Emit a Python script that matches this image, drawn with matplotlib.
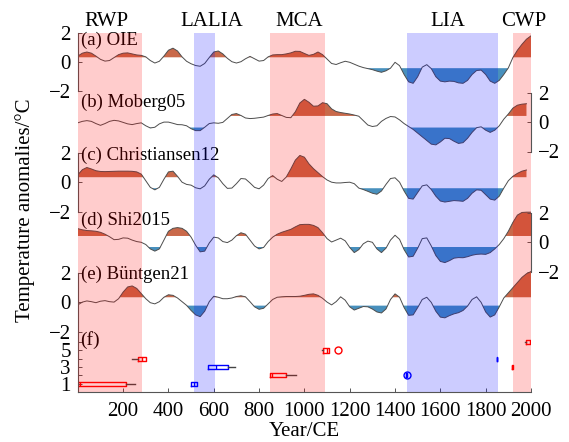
import numpy as np
import matplotlib
matplotlib.use("Agg")
import matplotlib.pyplot as plt

plt.rcParams["font.family"] = ["Liberation Serif", "DejaVu Serif"]
plt.rcParams["font.size"] = 15

# ---- data (smoothed anomalies, 20-yr steps) ----
years = np.arange(0, 2001, 20)

oie = [0.40, 0.60, 0.68, 0.60, 0.40, 0.18, 0.06, 0.10, 0.30, 0.50,
       0.60, 0.62, 0.55, 0.48, 0.45, 0.35, 0.10, -0.07, 0.05, 0.40,
       0.80, 0.94, 0.75, 0.35, 0.05, -0.12, -0.24, -0.29, -0.10, 0.30,
       0.68, 0.75, 0.55, 0.25, 0.02, -0.07, 0.02, 0.22, 0.38, 0.22,
       0.06, 0.10, 0.35, 0.48, 0.50, 0.50, 0.55, 0.62, 0.73, 0.72,
       0.58, 0.45, 0.52, 0.68, 0.50, 0.20, -0.10, -0.17, -0.05, 0.05,
       -0.02, -0.15, -0.28, -0.38, -0.45, -0.52, -0.62, -0.70, -0.60, -0.42,
       -0.02, -0.25, -0.85, -1.35, -1.45, -1.00, -0.35, -0.18, -0.45, -1.00,
       -1.30, -1.35, -1.30, -1.32, -1.42, -1.45, -1.25, -0.85, -0.58, -0.55,
       -0.85, -1.30, -1.45, -1.25, -0.85, -0.40, 0.30, 0.80, 1.20, 1.55,
       1.78]

moberg05 = [-0.05, 0.05, 0.10, 0.05, -0.10, -0.22, -0.10, 0.05, 0.12, 0.08,
            -0.02, -0.12, -0.17, -0.10, -0.05, -0.25, -0.40, -0.35, -0.12, 0.00,
            0.00, -0.08, -0.17, -0.18, -0.25, -0.45, -0.58, -0.58, -0.35, -0.10,
            -0.05, -0.08, -0.02, 0.25, 0.52, 0.58, 0.45, 0.28, 0.24, 0.26,
            0.30, 0.34, 0.45, 0.55, 0.58, 0.45, 0.32, 0.30, 0.70, 1.30,
            1.55, 1.35, 1.08, 1.10, 1.32, 1.25, 0.90, 0.72, 0.65, 0.60,
            0.55, 0.48, 0.40, 0.10, -0.20, -0.30, -0.25, 0.05, 0.25, 0.38,
            0.35, 0.15, -0.10, -0.30, -0.50, -0.75, -1.00, -1.25, -1.50, -1.55,
            -1.35, -1.10, -1.12, -1.30, -1.45, -1.40, -1.10, -0.70, -0.38, -0.32,
            -0.55, -0.70, -0.55, -0.25, 0.20, 0.55, 0.95, 1.15, 1.22, 1.25,
            np.nan]

christiansen12 = [0.50, 0.85, 1.00, 0.90, 0.78, 0.73, 0.72, 0.73, 0.74, 0.75,
                  0.75, 0.75, 0.74, 0.70, 0.55, 0.10, -0.35, -0.52, -0.35, 0.20,
                  0.70, 0.75, 0.40, 0.00, -0.15, -0.20, -0.38, -0.45, -0.25, 0.20,
                  0.50, 0.30, -0.10, -0.42, -0.40, -0.10, 0.25, 0.22, -0.05, -0.35,
                  -0.45, -0.20, 0.25, 0.45, 0.20, 0.05, 0.35, 0.90, 1.50, 1.82,
                  1.70, 1.25, 0.92, 0.65, 0.38, 0.15, 0.00, -0.05, -0.05, -0.02,
                  0.00, -0.10, -0.40, -0.50, -0.62, -0.75, -0.82, -0.60, -0.15, 0.25,
                  0.30, 0.00, -0.60, -1.10, -1.15, -0.70, -0.25, -0.18, -0.50, -0.95,
                  -1.28, -1.35, -1.30, -1.25, -1.27, -1.30, -1.10, -0.75, -0.52, -0.55,
                  -0.85, -1.15, -1.22, -0.95, -0.40, 0.10, 0.40, 0.60, 0.75, 0.83,
                  np.nan]

shi2015 = [0.93, 0.85, 0.80, 0.78, 0.75, 0.68, 0.55, 0.38, 0.18, 0.20,
           0.30, 0.28, 0.15, 0.05, 0.00, -0.15, -0.45, -0.60, -0.45, 0.15,
           0.75, 0.95, 1.00, 0.95, 0.75, 0.35, -0.20, -0.65, -0.60, -0.05,
           0.35, 0.30, 0.05, -0.02, 0.15, 0.45, 0.65, 0.55, 0.15, -0.25,
           -0.45, -0.35, 0.05, 0.35, 0.55, 0.68, 0.78, 0.88, 1.05, 1.20,
           1.22, 1.22, 1.15, 1.00, 0.65, 0.25, 0.02, 0.15, 0.28, 0.10,
           -0.35, -0.70, -0.50, -0.10, 0.08, 0.00, -0.45, -0.70, -0.40, 0.15,
           0.48, 0.20, -0.50, -1.00, -0.95, -0.40, 0.25, 0.30, -0.25, -0.90,
           -1.30, -1.38, -1.25, -1.08, -1.04, -1.05, -0.98, -0.88, -0.82, -0.80,
           -0.82, -0.70, -0.45, -0.15, 0.25, 0.75, 1.35, 1.85, 2.03, 2.05,
           2.05]

buentgen21 = [-0.17, 0.02, 0.10, 0.05, -0.02, 0.08, 0.12, 0.05, 0.02, 0.25,
              0.70, 1.05, 1.12, 0.95, 0.60, 0.25, -0.02, -0.10, 0.05, 0.35,
              0.52, 0.48, 0.30, 0.05, -0.20, -0.55, -0.85, -0.97, -0.60, 0.05,
              0.42, 0.35, 0.25, 0.25, 0.30, 0.40, 0.45, 0.38, 0.05, -0.30,
              -0.47, -0.40, -0.10, 0.20, 0.35, 0.38, 0.40, 0.40, 0.40, 0.42,
              0.48, 0.55, 0.58, 0.48, 0.28, 0.02, -0.17, 0.05, 0.38, 0.15,
              -0.30, -0.52, -0.40, -0.28, -0.30, -0.45, -0.65, -0.72, -0.45, 0.20,
              0.58, 0.35, -0.35, -0.88, -0.85, -0.35, 0.20, 0.35, 0.00, -0.60,
              -1.00, -1.05, -0.90, -0.78, -0.70, -0.55, -0.25, 0.20, 0.38, 0.00,
              -0.65, -1.00, -0.85, -0.30, 0.30, 0.65, 1.00, 1.35, 1.70, 1.95,
              2.10]

series = [oie, moberg05, christiansen12, shi2015, buentgen21]
series_names = ["(a) OIE", "(b) Moberg05", "(c) Christiansen12",
                "(d) Shi2015", "(e) Büntgen21"]
warm_thresh = [0.32, 0.42, 0.34, 0.43, 0.35]
cold_thresh = [-0.42, -0.37, -0.41, -0.32, -0.22]
name_y = [1.5, 1.37, 1.85, 1.52, 1.93]

period_names = ["RWP", "LALIA", "MCA", "LIA", "CWP"]
period_start = [0, 513, 848, 1451, 1921]
period_end = [285, 607, 1093, 1854, 2000]
period_color = ["red", "blue", "red", "blue", "red"]
period_label_x = [128, 592, 978, 1634, 1966]

# (f) onset / end boxes  (row, q1, median, q3, whisker lo, whisker hi, fliers)
warm_rows = [1, 2, 3, 4, 5, 6]
warm_q1 = [0, 848, 1916, 266, 1082, 1980]
warm_med = [8, 855, 1918, 282, 1098, 1995]
warm_q3 = [211, 917, 1920, 299, 1109, 2010]
warm_lo = [0, 848, 1916, 240, 1078, 1975]
warm_hi = [252, 965, 1920, 299, 1109, 2015]
warm_fliers = [[], [], [], [], [1149], []]

cold_rows = [1, 2, 3, 4]
cold_q1 = [498, 1448, 576, 1850]
cold_med = [513, 1450, 608, 1851]
cold_q3 = [527, 1452, 664, 1852]
cold_lo = [498, 1448, 576, 1850]
cold_hi = [527, 1452, 692, 1852]
cold_fliers = [[], [1451], [], []]

warm_fill = "#c9694a"
cold_fill = "#4890bd"
line_col = "#4d4d4d"
spine_col = "#555555"

W, H = 569, 442
x0, x1 = 77.8, 531.0


def box(top_px, bottom_px):
    return [x0 / W, 1 - bottom_px / H, (x1 - x0) / W, (bottom_px - top_px) / H]


fig = plt.figure(figsize=(W / 100, H / 100), dpi=100)

# ---- panel (f) with the time axis ----
ax_f = fig.add_axes(box(333, 392))
ax_f.patch.set_visible(False)
ax_f.set_xlim(0, 2000)
ax_f.set_ylim(0, 7.1)
for s in ["top", "right"]:
    ax_f.spines[s].set_visible(False)
for s in ["left", "bottom"]:
    ax_f.spines[s].set_color(spine_col)
    ax_f.spines[s].set_linewidth(0.8)
ax_f.set_xticks(range(200, 2001, 200))
ax_f.set_yticks(range(1, 7), labels=["1", "", "3", "", "5", ""])
ax_f.tick_params(direction="in", length=3, width=0.7, color=spine_col)
ax_f.tick_params(axis="x", pad=7)
ax_f.tick_params(axis="y", pad=5)
ax_f.set_xlabel("Year/CE", labelpad=1)
ax_f.text(12, 6.2, "(f)", va="center", ha="left", fontsize=14)


def stats(q1, med, q3, lo, hi, fl):
    return [dict(q1=a, med=b, q3=c, whislo=d, whishi=e, fliers=f)
            for a, b, c, d, e, f in zip(q1, med, q3, lo, hi, fl)]


for st, rows, col in [
    (stats(warm_q1, warm_med, warm_q3, warm_lo, warm_hi, warm_fliers), warm_rows, "red"),
    (stats(cold_q1, cold_med, cold_q3, cold_lo, cold_hi, cold_fliers), cold_rows, "blue"),
]:
    ax_f.bxp(st, positions=rows, orientation="horizontal", widths=0.5,
             showcaps=False, manage_ticks=False,
             boxprops=dict(color=col, linewidth=1.0),
             medianprops=dict(color=col, linewidth=1.0),
             whiskerprops=dict(color="#444444", linewidth=1.0),
             flierprops=dict(marker="o", markerfacecolor="none",
                             markeredgecolor=col, markersize=5))

# ---- stacked temperature curves ----
unit = 14.7
for i, (vals, name) in enumerate(zip(series, series_names)):
    z = 62 + 60.1 * i
    ax = fig.add_axes(box(z - 2.6 * unit, z + 2.6 * unit))
    ax.patch.set_visible(False)
    ax.set_xlim(0, 2000)
    ax.set_ylim(-2.6, 2.6)
    v = np.array(vals, dtype=float)
    ax.fill_between(years, v, warm_thresh[i], where=v >= warm_thresh[i],
                    interpolate=True, color=warm_fill, lw=0)
    ax.fill_between(years, v, cold_thresh[i], where=v <= cold_thresh[i],
                    interpolate=True, color=cold_fill, lw=0)
    ax.plot(years, v, color=line_col, lw=0.7)
    side = "left" if i % 2 == 0 else "right"
    for s in ["top", "bottom", "left", "right"]:
        ax.spines[s].set_visible(s == side)
    ax.spines[side].set_bounds(-2, 2)
    ax.spines[side].set_color(spine_col)
    ax.spines[side].set_linewidth(0.8)
    ax.set_xticks([])
    ax.set_yticks([-2, 0, 2])
    if side == "right":
        ax.yaxis.tick_right()
    ax.tick_params(axis="y", direction="in", length=3, width=0.7,
                   color=spine_col, pad=5)
    ax.text(14, name_y[i], name, va="center", ha="left", fontsize=13.5)

# ---- period shading on top ----
ax_sp = fig.add_axes(box(33, 392))
ax_sp.set_xlim(0, 2000)
ax_sp.set_ylim(0, 1)
ax_sp.axis("off")
for name, a, b, c, lx in zip(period_names, period_start, period_end,
                             period_color, period_label_x):
    ax_sp.axvspan(a, b, color=c, alpha=0.2, lw=0)
    ax_sp.text(lx, 1.033, name, ha="center", va="center", clip_on=False)

fig.text(25 / W, 1 - 210 / H, "Temperature anomalies/°C", rotation=90,
         ha="center", va="center")

fig.savefig("out.png", dpi=100)
